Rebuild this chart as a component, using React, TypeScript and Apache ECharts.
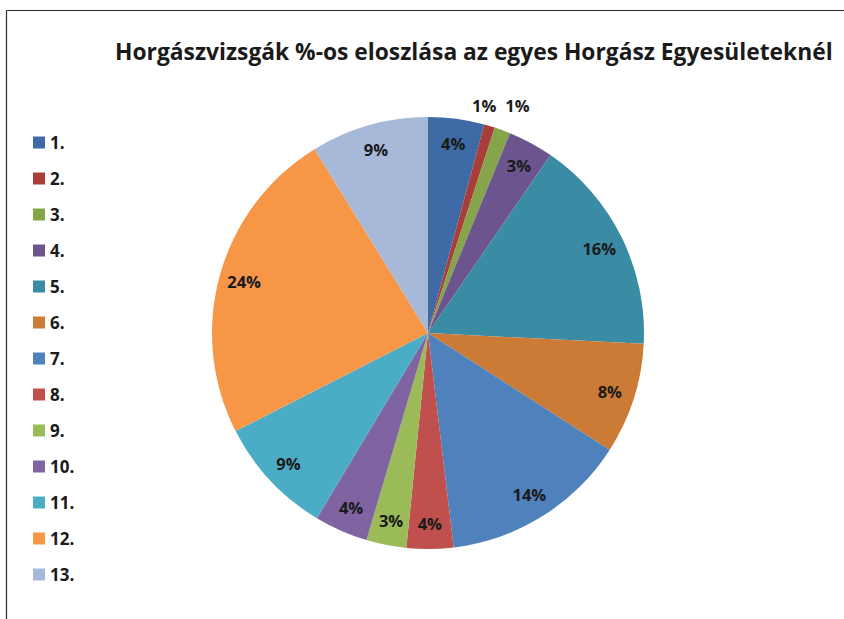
import React, { useEffect, useRef } from "react";
import * as echarts from "echarts";

const titleText = "Horgászvizsgák %-os eloszlása az egyes Horgász Egyesületeknél";
const categories = ["1.", "2.", "3.", "4.", "5.", "6.", "7.", "8.", "9.", "10.", "11.", "12.", "13."];
const values = [4.2, 0.8, 1.2, 3.4, 16.2, 8.3, 14.0, 3.5, 3.0, 4.0, 8.9, 23.7, 8.8];
const colors = [
  "#3E6BA5", "#A83D3A", "#86A44A", "#6C558F", "#3A8BA4", "#CB7B35",
  "#4F81BD", "#C0504D", "#9BBB59", "#8064A2", "#4BACC6", "#F79646", "#A7B9D9",
];
const smallThreshold = 1.5;

const FONT = "Open Sans";
const TEXT_COLOR = "#1a1a1a";

export default function App() {
  const ref = useRef<HTMLDivElement>(null);

  useEffect(() => {
    if (!ref.current) return;
    const chart = echarts.init(ref.current, undefined, { renderer: "svg" });
    const center = [428, 333];
    const pctFormatter = (p: any) => Math.round(p.percent) + "%";
    const labelStyle = {
      fontFamily: FONT,
      fontWeight: "bold" as const,
      fontSize: 16.5,
      color: TEXT_COLOR,
    };

    const option: any = {
      animation: false,
      backgroundColor: "#ffffff",
      title: {
        text: titleText,
        left: 110,
        top: 35,
        textStyle: {
          fontFamily: FONT,
          fontWeight: "bold",
          fontSize: 22.8,
          color: TEXT_COLOR,
        },
      },
      legend: {
        orient: "vertical",
        left: 28,
        top: 129,
        icon: "rect",
        itemWidth: 12,
        itemHeight: 12,
        itemGap: 19,
        selectedMode: false,
        data: categories,
        textStyle: {
          fontFamily: FONT,
          fontWeight: "bold",
          fontSize: 17,
          color: TEXT_COLOR,
        },
      },
      graphic: [
        {
          type: "line",
          shape: { x1: 6.5, y1: 10.5, x2: 844, y2: 10.5 },
          style: { stroke: "#2b2b2b", lineWidth: 1.2 },
          silent: true,
        },
        {
          type: "line",
          shape: { x1: 6.5, y1: 10.5, x2: 6.5, y2: 619 },
          style: { stroke: "#2b2b2b", lineWidth: 1.2 },
          silent: true,
        },
      ],
      series: [
        {
          type: "pie",
          center,
          radius: 216,
          startAngle: 90,
          clockwise: true,
          silent: true,
          emphasis: { disabled: true },
          label: { show: false },
          labelLine: { show: false },
          data: categories.map((name, i) => ({
            name,
            value: values[i],
            itemStyle: { color: colors[i] },
          })),
        },
        {
          type: "pie",
          center,
          radius: [160, 216],
          startAngle: 90,
          clockwise: true,
          silent: true,
          emphasis: { disabled: true },
          labelLine: { show: false },
          itemStyle: { color: "rgba(0,0,0,0)" },
          label: { ...labelStyle, position: "inside", formatter: pctFormatter },
          data: categories.map((name, i) => ({
            name,
            value: values[i],
            label: { show: values[i] >= smallThreshold },
          })),
        },
        {
          type: "pie",
          center,
          radius: [222, 250],
          startAngle: 90,
          clockwise: true,
          silent: true,
          emphasis: { disabled: true },
          labelLine: { show: false },
          itemStyle: { color: "rgba(0,0,0,0)" },
          label: { ...labelStyle, position: "inside", formatter: pctFormatter },
          labelLayout: (p: any) =>
            p.dataIndex === 1 ? { dx: -12, dy: 2 } : { dx: 7, dy: -3 },
          data: categories.map((name, i) => ({
            name,
            value: values[i],
            label: { show: values[i] < smallThreshold },
          })),
        },
      ],
    };

    chart.setOption(option);
    return () => chart.dispose();
  }, []);

  return (
    <div style={{ position: "fixed", left: 0, top: 0, width: 844, height: 619 }}>
      <div ref={ref} style={{ width: 844, height: 619 }} />
    </div>
  );
}
